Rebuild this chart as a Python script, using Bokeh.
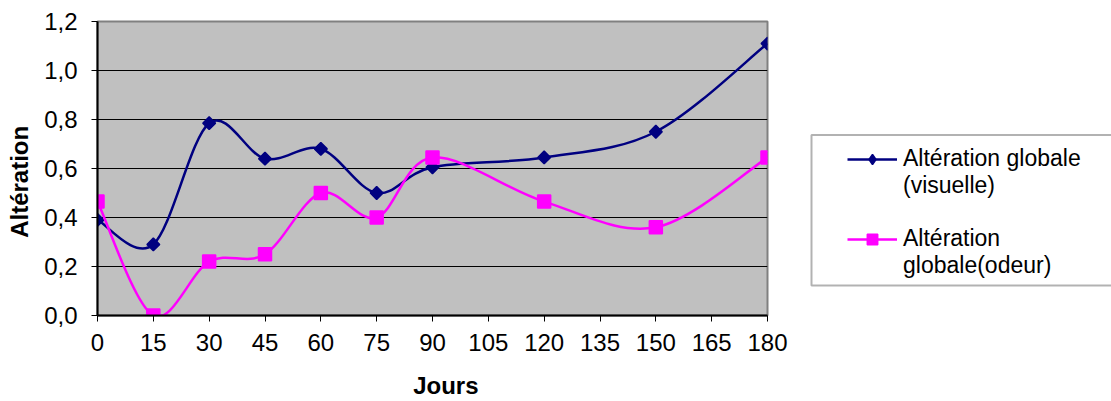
import numpy as np
from bokeh.plotting import figure
from bokeh.layouts import row
from bokeh.models import (Range1d, FixedTicker, CustomJSTickFormatter, Legend,
                          LegendItem, ColumnDataSource, BoxAnnotation)
from bokeh.embed import file_html
from bokeh.resources import INLINE

# ---- data ----
jours = [0, 15, 30, 45, 60, 75, 90, 120, 150, 180]
visuelle = [0.39, 0.29, 0.785, 0.64, 0.68, 0.50, 0.605, 0.645, 0.75, 1.11]
odeur = [0.465, 0.0, 0.22, 0.25, 0.50, 0.40, 0.645, 0.465, 0.36, 0.645]
label_visuelle = ["Altération globale", "(visuelle)"]
label_odeur = ["Altération", "globale(odeur)"]
x_title = "Jours"
y_title = "Altération"
x_ticks = [0, 15, 30, 45, 60, 75, 90, 105, 120, 135, 150, 165, 180]
y_ticks = [0.0, 0.2, 0.4, 0.6, 0.8, 1.0, 1.2]
grid_ticks = [0.2, 0.4, 0.6, 0.8, 1.0]

FONT = "Liberation Sans"
BLUE = "#000080"
PINK = "#FF00FF"
NBSP = "\u00a0"


def smooth_source(xs, ys):
    """Bezier segments (Catmull-Rom style smoothing, like a spreadsheet's smoothed line)."""
    x = np.asarray(xs, float)
    y = np.asarray(ys, float)
    n = len(x)
    xp = np.concatenate([[x[0]], x, [x[-1]]])
    yp = np.concatenate([[y[0]], y, [y[-1]]])
    return ColumnDataSource(dict(
        x0=x[:-1], y0=y[:-1], x1=x[1:], y1=y[1:],
        cx0=x[:-1] + (xp[2:n + 1] - xp[0:n - 1]) / 6.0,
        cy0=y[:-1] + (yp[2:n + 1] - yp[0:n - 1]) / 6.0,
        cx1=x[1:] - (xp[3:n + 2] - xp[1:n]) / 6.0,
        cy1=y[1:] - (yp[3:n + 2] - yp[1:n]) / 6.0,
    ))


def add_series(fig, ys, color, marker, size, angle):
    bz = fig.bezier(x0="x0", y0="y0", x1="x1", y1="y1", cx0="cx0", cy0="cy0",
                    cx1="cx1", cy1="cy1", source=smooth_source(jours, ys),
                    line_color=color, line_width=2.5)
    sc = fig.scatter(jours, ys, marker=marker, angle=angle, size=size,
                     fill_color=color, line_color=color, line_width=1.5)
    return bz, sc


# ---------------- main chart ----------------
p = figure(width=790, height=401, output_backend="svg", toolbar_location=None,
           x_range=Range1d(0, 180), y_range=Range1d(0, 1.2),
           min_border_left=97, min_border_right=23, min_border_top=21,
           min_border_bottom=85)
p.background_fill_color = "#C0C0C0"
p.border_fill_color = "white"
p.outline_line_color = "#808080"
p.outline_line_width = 2

p.xgrid.visible = False
p.ygrid.ticker = FixedTicker(ticks=grid_ticks)
p.ygrid.grid_line_color = "black"
p.ygrid.grid_line_width = 1

p.xaxis.ticker = FixedTicker(ticks=x_ticks)
p.yaxis.ticker = FixedTicker(ticks=y_ticks)
p.yaxis.formatter = CustomJSTickFormatter(code="return tick.toFixed(1).replace('.', ',');")
for ax in (p.xaxis, p.yaxis):
    ax.axis_line_color = "black"
    ax.axis_line_width = 2
    ax.major_tick_line_color = "black"
    ax.major_tick_in = 0
    ax.major_tick_out = 6
    ax.minor_tick_line_color = None
    ax.major_label_text_font = FONT
    ax.major_label_text_font_size = "24px"
    ax.major_label_text_color = "black"
    ax.axis_label_text_font = FONT
    ax.axis_label_text_font_size = "24px"
    ax.axis_label_text_font_style = "bold"
    ax.axis_label_text_color = "black"
# non-breaking spaces nudge the titles off-centre, as in the reference
p.xaxis.axis_label = NBSP * 4 + x_title
p.yaxis.axis_label = y_title + NBSP * 4
p.yaxis.major_label_standoff = 14
p.xaxis.major_label_standoff = 12
p.yaxis.axis_label_standoff = 8
p.xaxis.axis_label_standoff = 18

add_series(p, visuelle, BLUE, "square", 9, np.pi / 4)
add_series(p, odeur, PINK, "square", 13, 0)

# ---------------- legend panel ----------------
# frame shares the main chart's top/bottom borders; units here are pixels of the panel
q = figure(width=321, height=401, output_backend="svg", toolbar_location=None,
           x_range=Range1d(1000, 1302), y_range=Range1d(0, 295),
           x_axis_type=None, y_axis_type=None,
           min_border_left=19, min_border_right=0, min_border_top=21,
           min_border_bottom=85)
q.grid.visible = False
q.outline_line_color = None
q.background_fill_color = "white"
q.border_fill_color = "white"
q.add_layout(BoxAnnotation(left=1002, right=1400, bottom=30, top=181,
                           fill_color="white", fill_alpha=1,
                           line_color="black", line_width=2))

# legend renderers (same series; their data lie outside this panel's view)
lv = add_series(q, visuelle, BLUE, "diamond", 9, 0)
lo = add_series(q, odeur, PINK, "square", 13, 0)
blank = q.scatter([0], [0], size=1, alpha=0)

items = [LegendItem(label=label_visuelle[0], renderers=list(lv)),
         LegendItem(label=label_visuelle[1], renderers=[blank]),
         LegendItem(label=" ", renderers=[blank]),
         LegendItem(label=label_odeur[0], renderers=list(lo)),
         LegendItem(label=label_odeur[1], renderers=[blank])]
legend = Legend(items=items, location=(38, 36))
legend.border_line_color = None
legend.background_fill_alpha = 0
legend.label_text_font = FONT
legend.label_text_font_size = "23px"
legend.label_text_color = "black"
legend.glyph_width = 50
legend.glyph_height = 26
legend.label_height = 10
legend.label_standoff = 6
legend.padding = 0
legend.spacing = -1
legend.margin = 0
q.add_layout(legend, "center")

layout = row(p, q)
open("out.html", "w").write(file_html(layout, INLINE))
